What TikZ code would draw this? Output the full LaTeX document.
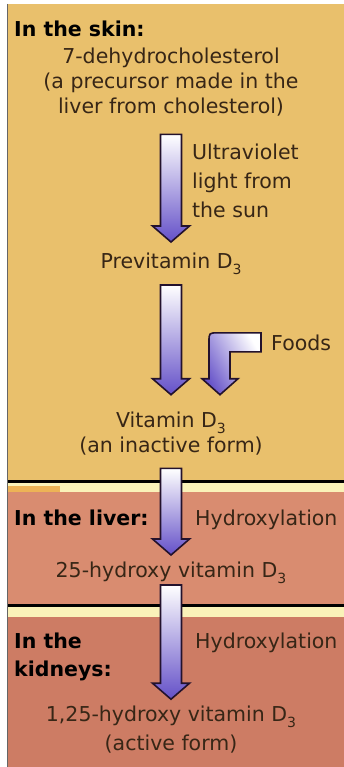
\documentclass[tikz,border=0pt]{standalone}
\usepackage{fontspec}
\setmainfont{DejaVu Sans}
\usetikzlibrary{calc,positioning}

\definecolor{skintan}{RGB}{233,192,108}
\definecolor{liverpink}{RGB}{217,140,112}
\definecolor{kidneypink}{RGB}{205,124,100}
\definecolor{palestrip}{RGB}{250,242,185}
\definecolor{textbrown}{RGB}{55,38,22}
\definecolor{vdpurple}{RGB}{100,80,200}
\definecolor{arrowline}{RGB}{35,18,45}

\newcommand{\lowsub}[1]{\raisebox{-6pt}{\fontsize{14}{14}\selectfont #1}}

% big shaded arrow going straight down from #1 to the tip #2
\newcommand{\vdarrow}[2]{%
  \path[vdbody] let \p1=#1, \p2=#2 in
    (\x1-10.5pt,\y1) -- (\x1+10.5pt,\y1) -- (\x1+10.5pt,\y2+16pt) -- (\x1+18.5pt,\y2+16pt)
    -- (\x1,\y2) -- (\x1-18.5pt,\y2+16pt) -- (\x1-10.5pt,\y2+16pt) -- cycle;}

\begin{document}
\begin{tikzpicture}[
  x=1pt, y=-1pt,
  every node/.style={font=\fontsize{20.5}{25}\selectfont, text=textbrown, inner sep=0pt},
  region/.style={font=\fontsize{20.5}{28}\selectfont\bfseries, text=black, align=left},
  chem/.style={align=center},
  vdbody/.style={draw=arrowline, line width=1.6pt, line join=miter,
    top color=white, bottom color=vdpurple}
]
\useasboundingbox[fill=white] (0,0) rectangle (344,767);

% the three organs
\fill[skintan] (7,4) rectangle (344,481);
\fill[palestrip] (7,481) rectangle (344,492);
\fill[skintan!80!orange] (7,486) rectangle (60,492);
\fill[liverpink] (7,492) rectangle (344,605);
\fill[palestrip] (7,605) rectangle (344,617);
\fill[kidneypink] (7,617) rectangle (344,767);
\draw[line width=3pt] (7,481) -- (344,481);
\draw[line width=3pt] (7,605) -- (344,605);
\draw[black!60, line width=1pt] (7,4) -- (7,767);

\node[region, anchor=base west] (skin) at (14,37) {In the skin:};
\node[chem, anchor=base] (chol) at (171,113.5) {7-dehydrocholesterol\\(a precursor made in the\\liver from cholesterol)};
\node[align=left, anchor=base west] (uv) at (192,218) {Ultraviolet\\[4pt]light from\\[4pt]the sun};
\node[anchor=base] (prev) at (171,268) {Previtamin D\lowsub{3}};
\node[anchor=base west] (foods) at (271,350) {Foods};
\node[chem, anchor=base] (vit) at (171,452.5) {Vitamin D\lowsub{3}\\(an inactive form)};
\node[region, anchor=base west] (liver) at (14,525) {In the liver:};
\node[anchor=base west] (hyd1) at (195,525) {Hydroxylation};
\node[anchor=base] (hv25) at (171,577) {25-hydroxy vitamin D\lowsub{3}};
\node[region, anchor=base west] (kidney) at (14,676) {In the\\kidneys:};
\node[anchor=base west] (hyd2) at (195,648) {Hydroxylation};
\node[chem, anchor=base] (hv125) at (171,750) {1,25-hydroxy vitamin D\lowsub{3}\\[4pt](active form)};

\vdarrow{($(chol.south)+(0,18)$)}{($(prev.base)+(0,-26)$)}
\vdarrow{($(prev.base)+(0,17)$)}{($(vit.north)+(0,-17)$)}
\vdarrow{($(vit.south)+(0,13)$)}{($(hv25.base)+(0,-22)$)}
\vdarrow{($(hv25.base)+(0,8)$)}{($(hv125.north)+(0,-6)$)}

% bent arrow from the foods
\path[vdbody, shading angle=-60] let \p1=(foods.west), \p2=(vit.north) in
  (\x1-10pt,\y1+9.5pt) -- (\x1-53pt,\y1+9.5pt) .. controls (\x1-62pt,\y1+9.5pt) .. (\x1-62pt,\y1+0.5pt)
  -- (\x1-62pt,\y2+33pt) -- (\x1-69pt,\y2+33pt) -- (\x1-51pt,\y2+17pt) -- (\x1-33pt,\y2+33pt)
  -- (\x1-41pt,\y2+33pt) -- (\x1-41pt,\y1-9.5pt) -- (\x1-10pt,\y1-9.5pt) -- cycle;
\end{tikzpicture}
\end{document}
